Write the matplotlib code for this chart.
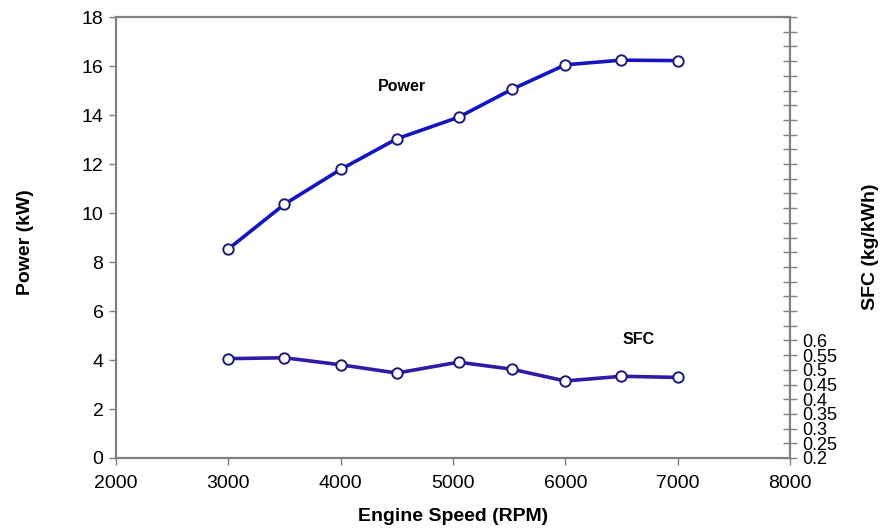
import matplotlib.pyplot as plt
import numpy as np

plt.rcParams['font.family'] = ['Liberation Sans', 'DejaVu Sans']

# engine test results
rpm = [3000, 3500, 4000, 4500, 5050, 5525, 6000, 6500, 7000]
power_kw = [8.53, 10.36, 11.78, 13.03, 13.91, 15.05, 16.05, 16.24, 16.22]
sfc = [0.538, 0.541, 0.517, 0.489, 0.526, 0.502, 0.462, 0.478, 0.474]

power_ticks = [0, 2, 4, 6, 8, 10, 12, 14, 16, 18]
rpm_ticks = [2000, 3000, 4000, 5000, 6000, 7000, 8000]
sfc_ticks = np.round(np.arange(0.2, 1.7001, 0.05), 2)

spine_col = '#808080'

fig = plt.figure(figsize=(8.8, 5.32), dpi=100)
ax = fig.add_axes([0.1318, 0.1391, 0.7659, 0.8289])
ax2 = ax.twinx()

ax.plot(rpm, power_kw, color='#1414c0', lw=2.6, marker='o', ms=7.5,
        mfc='white', mec='#1c1c78', mew=1.4, zorder=3)
ax2.plot(rpm, sfc, color='#3418a8', lw=2.6, marker='o', ms=7.5,
         mfc='white', mec='#1c1c78', mew=1.4, zorder=3)

ax.set_xlim(2000, 8000)
ax.set_ylim(0, 18)
ax2.set_ylim(0.2, 1.7)

ax.set_xticks(rpm_ticks)
ax.set_yticks(power_ticks)
ax.tick_params(axis='both', direction='out', length=5, width=1, color=spine_col,
               labelsize=14, pad=4)
ax.tick_params(axis='x', pad=7)

# right axis: ticks every 0.05 all the way up, labels only at the bottom
ax2.set_yticks(sfc_ticks)
ax2.set_yticklabels(['%g' % v if v <= 0.6 + 1e-9 else '' for v in sfc_ticks])
ax2.tick_params(axis='y', direction='inout', length=10, width=1, color=spine_col,
                labelsize=13, pad=4)

for a in (ax, ax2):
    for s in a.spines.values():
        s.set_color(spine_col)
        s.set_linewidth(1.5)

ax.set_xlabel('Engine Speed (RPM)', fontsize=14, fontweight='bold', labelpad=12)
ax.set_ylabel('Power (kW)', fontsize=14, fontweight='bold')
ax2.set_ylabel('SFC (kg/kWh)', fontsize=14, fontweight='bold')
ax.yaxis.set_label_coords(-0.122, 0.49)
ax2.yaxis.set_label_coords(1.107, 0.48)

ax.text(4550, 15.15, 'Power', fontsize=11.5, fontweight='bold', ha='center', va='center')
ax.text(6650, 4.85, 'SFC', fontsize=11.5, fontweight='bold', ha='center', va='center')

fig.savefig('out.png', dpi=100)
